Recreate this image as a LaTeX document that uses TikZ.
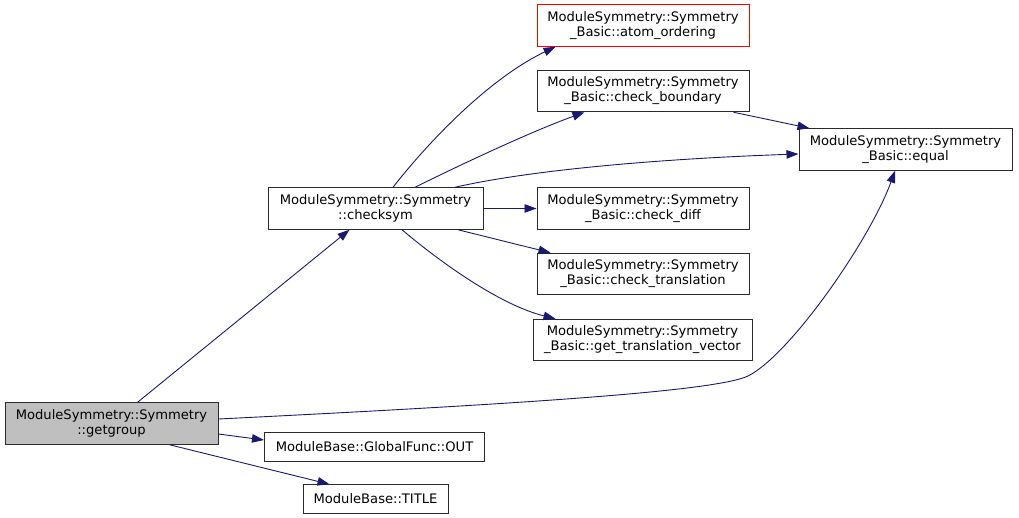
\documentclass[tikz,border=0pt]{standalone}
\usepackage{fontspec}
\setmainfont{DejaVu Sans}
\usetikzlibrary{arrows.meta,calc}
\definecolor{edgec}{HTML}{191970}
\definecolor{bord}{HTML}{2A2A2A}
\definecolor{gfill}{HTML}{BFBFBF}
\definecolor{truncc}{HTML}{FF0000}
\begin{document}
\begin{tikzpicture}[x=1pt,y=-1pt,
 fn/.style={draw=bord, line width=1pt, fill=white, align=center, inner sep=0pt, rectangle,
   font=\fontsize{13.1}{15}\selectfont, minimum height=41.5pt},
 cur/.style={fn, fill=gfill},
 trn/.style={fn, draw=truncc},
 one/.style={fn, minimum height=28.5pt},
 e/.style={draw=edgec, line width=0.9pt, -{Triangle[length=12pt,width=8.5pt]}}]
\useasboundingbox (0,0) rectangle (1019,518);

\node[cur, minimum width=213pt] (getgroup) at (111.5,423.5) {ModuleSymmetry::Symmetry\\::getgroup};
\node[fn, minimum width=215pt] (checksym) at (375.5,208.5) {ModuleSymmetry::Symmetry\\::checksym};
\node[trn, minimum width=212pt] (atom) at (643,25.5) {ModuleSymmetry::Symmetry\\\_Basic::atom\_ordering};
\node[fn, minimum width=212pt] (bound) at (643,91) {ModuleSymmetry::Symmetry\\\_Basic::check\_boundary};
\node[fn, minimum width=213pt] (equal) at (905.5,149.5) {ModuleSymmetry::Symmetry\\\_Basic::equal};
\node[fn, minimum width=212pt] (diff) at (643,208.5) {ModuleSymmetry::Symmetry\\\_Basic::check\_diff};
\node[fn, minimum width=212pt] (trans) at (643,274) {ModuleSymmetry::Symmetry\\\_Basic::check\_translation};
\node[fn, minimum width=219pt] (gtv) at (642.5,340) {ModuleSymmetry::Symmetry\\\_Basic::get\_translation\_vector};
\node[one, minimum width=220pt] (out) at (374.5,447) {ModuleBase::GlobalFunc::OUT};
\node[one, minimum width=145pt] (title) at (375.5,499) {ModuleBase::TITLE};

\draw[e] (getgroup) -- (checksym);
\draw[e] ([yshift=4.5pt]getgroup.east) .. controls (500,405) and (715,392) .. (748,376)
   .. controls (790,355) and (870,240) .. ([xshift=-10.5pt]equal.south);
\draw[e] ([yshift=-10.5pt]getgroup.east) -- ([yshift=7pt]out.west);
\draw[e] ([xshift=58pt]getgroup.south) -- ([xshift=27pt]title.north west);

\draw[e] ([xshift=17.5pt]checksym.north) .. controls (430,140) and (490,78) .. ([xshift=19pt]atom.south west);
\draw[e] ([xshift=39.5pt]checksym.north) .. controls (460,165) and (530,132) .. ([xshift=48pt]bound.south west);
\draw[e] ([xshift=79.5pt]checksym.north) .. controls (540,168) and (680,158) .. ([yshift=-4.5pt]equal.west);
\draw[e] (checksym.east) -- (diff.west);
\draw[e] ([xshift=82.5pt]checksym.south) -- ([xshift=14pt]trans.north west);
\draw[e] ([xshift=26.5pt]checksym.south) .. controls (440,262) and (500,305) .. ([xshift=23pt]gtv.north west);
\draw[e] ([xshift=-16pt]bound.south east) -- ([xshift=11pt]equal.north west);
\end{tikzpicture}
\end{document}
